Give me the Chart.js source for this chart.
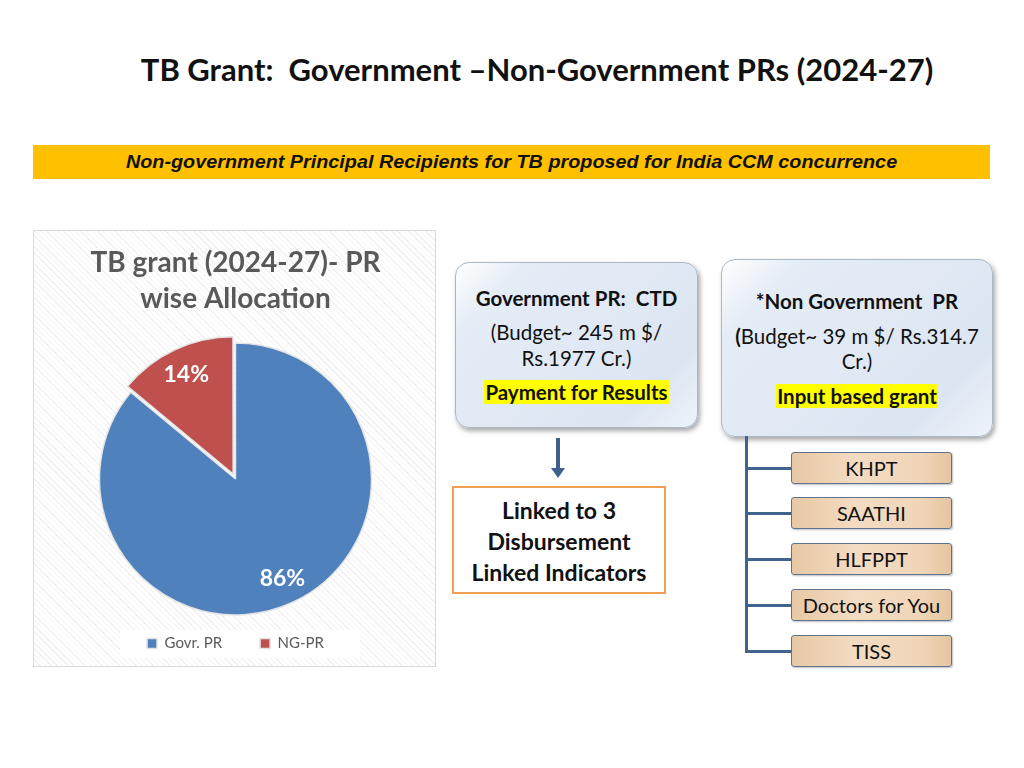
<!DOCTYPE html>
<html><head><meta charset="utf-8">
<script src="https://cdn.jsdelivr.net/npm/chart.js@4.4.1/dist/chart.umd.min.js"></script>
<style>
html,body{margin:0;padding:0;background:#fff;}
body{width:1024px;height:768px;position:relative;overflow:hidden;font-family:Lato,"Open Sans",sans-serif;}
.abs{position:absolute;}
#title{left:0;width:1024px;top:50px;text-align:center;font-weight:bold;font-size:31px;color:#111;padding-left:50px;box-sizing:border-box;white-space:pre;}
#banner{left:33px;top:145px;width:957px;height:34px;background:#FFC000;text-align:center;color:#111;}
#banner span{display:inline-block;font-family:"Liberation Sans",Arial,sans-serif;font-style:italic;font-weight:bold;font-size:18px;line-height:34px;transform:scaleX(1.1);transform-origin:center;}
#chartbox{left:33px;top:230px;width:401px;height:435px;border:1px solid #d9d9d9;background:repeating-linear-gradient(45deg,#f1f1f1 0 1px,#fff 1px 4px);}
#legbg{left:120px;top:630px;width:240px;height:28px;background:#fff;}
.card{border-radius:14px;background:linear-gradient(135deg,#ffffff 0%,#e4ecf6 18%,#dce6f2 80%,#eef3fa 100%);border:1px solid #aab8c8;box-shadow:2px 3px 5px rgba(0,0,0,0.35);color:#111;}
.ln{position:absolute;left:0;width:100%;text-align:center;height:26px;line-height:26px;font-size:20.5px;white-space:nowrap;}
.hl{background:#FFFF00;padding:0 1px;}
#arrow{left:556px;top:438px;width:4px;height:32px;background:#3f5f8f;}
#arrowhead{left:551px;top:468px;width:0;height:0;border-left:7px solid transparent;border-right:7px solid transparent;border-top:10px solid #3f5f8f;}
#linked{left:452px;top:486px;width:210px;height:104px;border:2px solid #f0a050;color:#111;}
#linked .ln{font-weight:bold;font-size:23px;height:31px;line-height:31px;}
.vline{background:#41648f;}
.ng{left:791px;width:159px;height:30px;border:1px solid #5f7390;border-radius:3px;background:linear-gradient(90deg,#e8c8a4 0%,#f3dcc2 40%,#f0d6b9 80%,#e6c5a0 100%);text-align:center;font-size:20px;line-height:30px;color:#111;box-shadow:1px 1px 2px rgba(0,0,0,0.25);white-space:nowrap;}
</style></head>
<body>
<div id="title" class="abs">TB Grant:  Government –Non-Government PRs (2024-27)</div>
<div id="banner" class="abs"><span>Non-government Principal Recipients for TB proposed for India CCM concurrence</span></div>
<div id="chartbox" class="abs"></div>
<div id="legbg" class="abs"></div>
<div class="abs" style="left:33px;top:230px;width:403px;height:437px;"><canvas id="c" width="403" height="437"></canvas></div>

<div class="abs card" style="left:455px;top:262px;width:241px;height:164px;">
  <div class="ln" style="top:22px;font-weight:bold;">Government PR:&nbsp; CTD</div>
  <div class="ln" style="top:56px;">(Budget~ 245 m $/</div>
  <div class="ln" style="top:82px;">Rs.1977 Cr.)</div>
  <div class="ln" style="top:116px;font-weight:bold;"><span class="hl">Payment for Results</span></div>
</div>
<div class="abs card" style="left:721px;top:259px;width:270px;height:176px;">
  <div class="ln" style="top:28px;font-weight:bold;">*Non Government&nbsp; PR</div>
  <div class="ln" style="top:63px;"><b>(</b>Budget~ 39 m $/ Rs.314.7</div>
  <div class="ln" style="top:88px;">Cr.)</div>
  <div class="ln" style="top:123px;font-weight:bold;"><span class="hl">Input based grant</span></div>
</div>

<div id="arrow" class="abs"></div>
<div id="arrowhead" class="abs"></div>
<div id="linked" class="abs">
  <div class="ln" style="top:7px;">Linked to 3</div>
  <div class="ln" style="top:38px;">Disbursement</div>
  <div class="ln" style="top:69px;">Linked Indicators</div>
</div>

<div class="abs vline" style="left:745px;top:436px;width:3px;height:217px;"></div>
<div class="abs vline" style="left:745px;top:467px;width:46px;height:3px;"></div>
<div class="abs vline" style="left:745px;top:512px;width:46px;height:3px;"></div>
<div class="abs vline" style="left:745px;top:558px;width:46px;height:3px;"></div>
<div class="abs vline" style="left:745px;top:604px;width:46px;height:3px;"></div>
<div class="abs vline" style="left:745px;top:650px;width:46px;height:3px;"></div>
<div class="abs ng" style="top:452px;">KHPT</div>
<div class="abs ng" style="top:497px;">SAATHI</div>
<div class="abs ng" style="top:543px;">HLFPPT</div>
<div class="abs ng" style="top:589px;">Doctors for You</div>
<div class="abs ng" style="top:635px;">TISS</div>

<script>
const categories = ["Govr. PR", "NG-PR"];
const shares = [86, 14];
const sliceColors = ["#4F81BD", "#C0504D"];
const chartTitle = ["TB grant (2024-27)- PR", "wise Allocation"];

const pctLabels = {
  id: "pctLabels",
  afterDatasetsDraw(chart) {
    const ctx = chart.ctx;
    const meta = chart.getDatasetMeta(0);
    const ds = chart.data.datasets[0];
    ctx.save();
    ctx.fillStyle = "#ffffff";
    ctx.font = "bold 23px Lato, sans-serif";
    ctx.textAlign = "center";
    ctx.textBaseline = "middle";
    meta.data.forEach((arc, i) => {
      const p = arc.getProps(["x","y","startAngle","endAngle","outerRadius"], true);
      const mid = (p.startAngle + p.endAngle) / 2;
      const off = ((ds.offset && ds.offset[i]) || 0) / 4;
      const r = p.outerRadius * 0.81 + off;
      ctx.fillText(shares[i] + "%", p.x + Math.cos(mid) * r, p.y + Math.sin(mid) * r);
    });
    ctx.restore();
  }
};

new Chart(document.getElementById("c"), {
  type: "pie",
  data: {
    labels: categories,
    datasets: [{
      data: shares,
      backgroundColor: sliceColors,
      borderColor: "#e4e4e4",
      borderWidth: 1.5,
      offset: [0, 22]
    }]
  },
  options: {
    responsive: false,
    animation: false,
    radius: 136,
    layout: { padding: { top: 0, bottom: 6, left: 2, right: 0 } },
    plugins: {
      title: {
        display: true,
        text: chartTitle,
        color: "#595959",
        font: { family: "Lato, sans-serif", size: 28, weight: "bold", lineHeight: 1.32 },
        padding: { top: 14, bottom: 42 }
      },
      legend: {
        display: true,
        position: "bottom",
        labels: {
          color: "#595959",
          font: { family: "Lato, sans-serif", size: 15 },
          boxWidth: 10, boxHeight: 10, padding: 38
        }
      },
      tooltip: { enabled: false }
    }
  },
  plugins: [pctLabels]
});
</script>
</body></html>
